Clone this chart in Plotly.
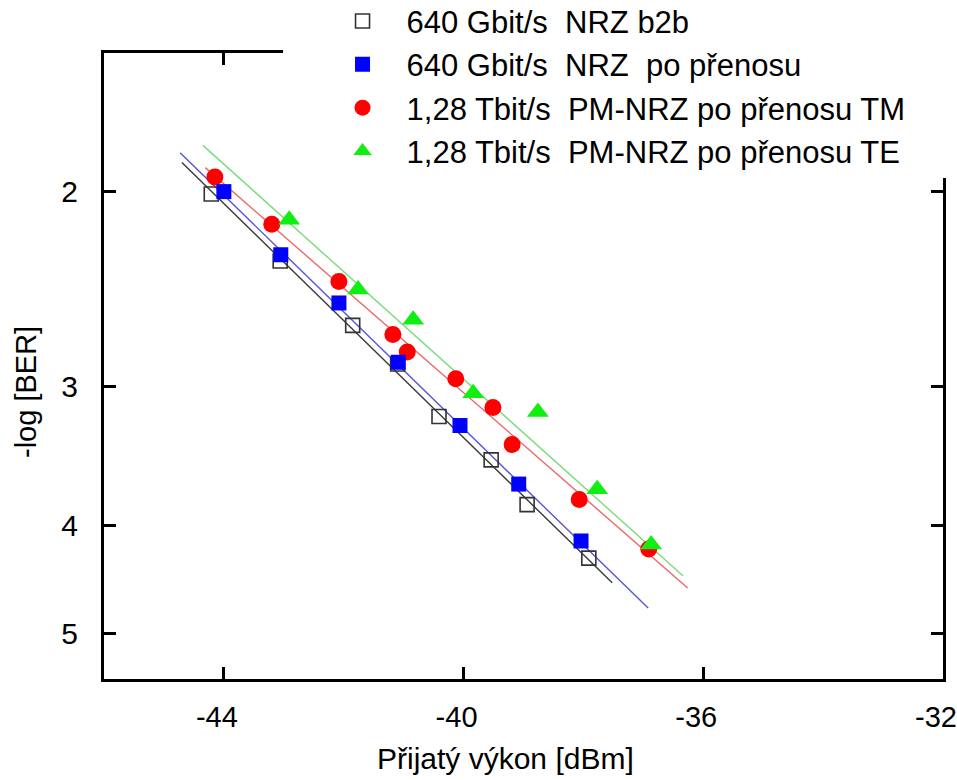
import numpy as np
import plotly.graph_objects as go

# ---- data ----
b2b_x = [-44.21, -43.06, -41.85, -41.10, -40.41, -39.54, -38.94, -37.91]
b2b_y = [2.01, 2.31, 2.64, 2.86, 3.19, 3.49, 3.83, 4.28]

tr_x = [-44.00, -43.05, -42.08, -41.09, -40.06, -39.08, -38.04]
tr_y = [2.00, 2.28, 2.52, 2.85, 3.25, 3.67, 4.13]

tm_x = [-44.15, -43.20, -42.08, -41.18, -40.94, -40.13, -39.51, -39.19, -38.07, -36.91]
tm_y = [1.94, 2.14, 2.41, 2.69, 2.79, 2.95, 3.13, 3.38, 3.79, 4.20]

te_x = [-42.91, -41.76, -40.84, -39.84, -38.76, -37.77, -36.87]
te_y = [2.12, 2.45, 2.61, 3.04, 3.16, 3.71, 4.16]

# fitted lines (end points)
fit_b2b_x = [-44.70, -37.52]
fit_b2b_y = [1.883, 4.505]
fit_tr_x = [-44.73, -36.92]
fit_tr_y = [1.845, 4.747]
fit_tm_x = [-44.31, -36.26]
fit_tm_y = [1.903, 4.553]
fit_te_x = [-44.35, -36.34]
fit_te_y = [1.817, 4.440]

names = [
    "640 Gbit/s\u00a0\u00a0NRZ b2b",
    "640 Gbit/s\u00a0\u00a0NRZ\u00a0\u00a0po přenosu",
    "1,28 Tbit/s\u00a0\u00a0PM-NRZ po přenosu TM",
    "1,28 Tbit/s\u00a0\u00a0PM-NRZ po přenosu TE",
]

x_ticks = [-44, -40, -36, -32]
y_ticks = [2, 3, 4, 5]

FONT = "Arial, Liberation Sans, sans-serif"

fig = go.Figure()

# fit lines
for fx, fy, col in [
    (fit_b2b_x, fit_b2b_y, "#3a3a3a"),
    (fit_tr_x, fit_tr_y, "#5555dd"),
    (fit_tm_x, fit_tm_y, "#ee6666"),
    (fit_te_x, fit_te_y, "#77dd77"),
]:
    fig.add_trace(go.Scatter(x=fx, y=fy, mode="lines", line=dict(color=col, width=1.4),
                             showlegend=False, hoverinfo="skip"))

# markers
fig.add_trace(go.Scatter(x=b2b_x, y=b2b_y, mode="markers", name=names[0], legendrank=1,
                         marker=dict(symbol="square-open", size=14, color="#333333",
                                     line=dict(width=1.6, color="#333333"))))
fig.add_trace(go.Scatter(x=tm_x, y=tm_y, mode="markers", name=names[2], legendrank=3,
                         marker=dict(symbol="circle", size=17, color="#ff0000")))
fig.add_trace(go.Scatter(x=tr_x, y=tr_y, mode="markers", name=names[1], legendrank=2,
                         marker=dict(symbol="square", size=15, color="#0000ff")))
fig.add_trace(go.Scatter(x=te_x, y=te_y, mode="markers", name=names[3], legendrank=4,
                         marker=dict(symbol="triangle-up", size=19, color="#11ee11")))

fig.update_layout(
    width=957, height=780,
    margin=dict(l=104, r=14, t=53, b=101, autoexpand=False),
    paper_bgcolor="white", plot_bgcolor="white",
    font=dict(family=FONT, size=30, color="black"),
    showlegend=True,
    legend=dict(x=0.2557, y=1.0936, xanchor="left", yanchor="top",
                bgcolor="white", borderwidth=0, itemwidth=78, tracegroupgap=0,
                font=dict(family=FONT, size=31, color="black"),
                traceorder="normal"),
    shapes=[dict(type="rect", xref="paper", yref="paper", x0=0.2134, x1=1.05,
                 y0=0.8003, y1=1.2, fillcolor="white", line=dict(width=0), layer="above")],
    annotations=[
        dict(text="Přijatý výkon [dBm]", xref="paper", yref="paper", x=(505 - 104) / 839,
             y=(679 - 758) / 626, xanchor="center", yanchor="middle", showarrow=False,
             font=dict(family=FONT, size=30, color="black")),
        dict(text="-log [BER]", xref="paper", yref="paper", x=(26 - 104) / 839,
             y=(679 - 392) / 626, xanchor="center", yanchor="middle", textangle=-90,
             showarrow=False, font=dict(family=FONT, size=29, color="black")),
    ],
)

fig.update_xaxes(range=[-46, -32], tickvals=x_ticks, ticktext=[str(v) for v in x_ticks],
                 ticks="inside", ticklen=12, tickwidth=3, tickcolor="black",
                 showline=True, linewidth=3, linecolor="black", mirror="ticks",
                 showgrid=False, zeroline=False, ticklabelstandoff=10,
                 ticklabelshift=-7, ticklabeloverflow="allow",
                 tickfont=dict(family=FONT, size=29, color="black"))
fig.update_yaxes(type="log", range=[np.log10(5.5), np.log10(1.5)], tickvals=y_ticks,
                 ticktext=[str(v) for v in y_ticks],
                 ticks="inside", ticklen=12, tickwidth=3, tickcolor="black",
                 showline=True, linewidth=3, linecolor="black", mirror="ticks",
                 showgrid=False, zeroline=False, ticklabelstandoff=17,
                 tickfont=dict(family=FONT, size=30, color="black"))

fig.write_html("out.html", config={"displayModeBar": False},
               post_script="document.body.style.margin='0';")
